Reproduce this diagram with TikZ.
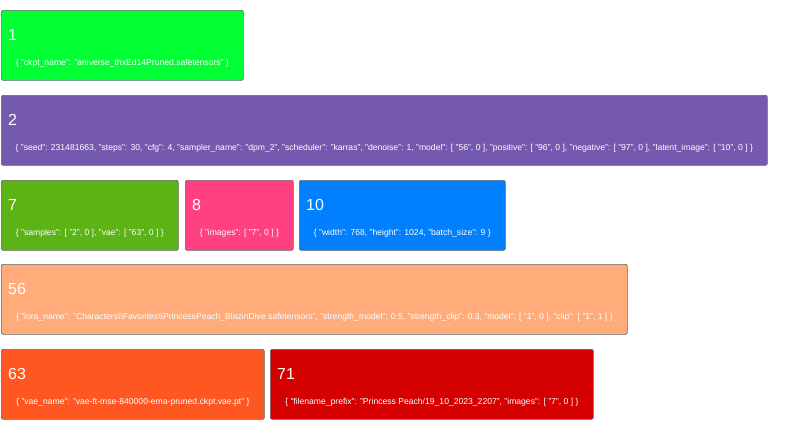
\documentclass[tikz,border=0pt]{standalone}
\usepackage{fontspec}
\setmainfont{Liberation Sans}
\definecolor{cA}{RGB}{0,255,51}
\definecolor{cB}{RGB}{117,89,175}
\definecolor{cC}{RGB}{92,179,21}
\definecolor{cD}{RGB}{255,64,129}
\definecolor{cE}{RGB}{0,128,255}
\definecolor{cF}{RGB}{255,171,122}
\definecolor{cG}{RGB}{255,87,34}
\definecolor{cH}{RGB}{213,0,0}
\tikzset{
  card/.style={draw=gray!80!black, line width=0.7pt, rounded corners=2pt, anchor=north west, inner sep=0pt, minimum height=70pt},
  ttl/.style={text=white, anchor=base west, inner sep=0pt, font=\fontsize{16}{16}\selectfont},
  dtl/.style={text=white, anchor=center, inner sep=0pt, font=\fontsize{8.6}{10}\selectfont},
}
\begin{document}
\begin{tikzpicture}[x=1pt,y=-1pt]
\useasboundingbox (0,0) rectangle (800,426);
% row 1
\node[card, fill=cA, minimum width=242pt] (b1) at (1,10) {};
\node[ttl] (t1) at ([shift={(7,30)}]b1.north west) {1};
\node[dtl] (d1) at ([yshift=-53pt]b1.north) {\{ "ckpt\_name": "aniverse\_thxEd14Pruned.safetensors" \}};
% row 2
\node[card, fill=cB, minimum width=766pt] (b2) at (1,95) {};
\node[ttl] (t2) at ([shift={(7,30)}]b2.north west) {2};
\node[dtl] (d2) at ([yshift=-53pt]b2.north) {\{ "seed": 231481663, "steps": 30, "cfg": 4, "sampler\_name": "dpm\_2", "scheduler": "karras", "denoise": 1, "model": [ "56", 0 ], "positive": [ "96", 0 ], "negative": [ "97", 0 ], "latent\_image": [ "10", 0 ] \}};
% row 3
\node[card, fill=cC, minimum width=177pt] (b7) at (1,180) {};
\node[ttl] (t7) at ([shift={(7,30)}]b7.north west) {7};
\node[dtl] (d7) at ([yshift=-53pt]b7.north) {\{ "samples": [ "2", 0 ], "vae": [ "63", 0 ] \}};
\node[card, fill=cD, minimum width=108pt] (b8) at (185,180) {};
\node[ttl] (t8) at ([shift={(7,30)}]b8.north west) {8};
\node[dtl] (d8) at ([yshift=-53pt]b8.north) {\{ "images": [ "7", 0 ] \}};
\node[card, fill=cE, minimum width=206pt] (b10) at (299,180) {};
\node[ttl] (t10) at ([shift={(7,30)}]b10.north west) {10};
\node[dtl] (d10) at ([yshift=-53pt]b10.north) {\{ "width": 768, "height": 1024, "batch\_size": 9 \}};
% row 4
\node[card, fill=cF, minimum width=626pt] (b56) at (1,264) {};
\node[ttl] (t56) at ([shift={(7,30)}]b56.north west) {56};
\node[dtl] (d56) at ([yshift=-53pt]b56.north) {\{ "lora\_name": "Characters\textbackslash\textbackslash Favorites\textbackslash\textbackslash PrincessPeach\_BlazinDive.safetensors", "strength\_model": 0.5, "strength\_clip": 0.3, "model": [ "1", 0 ], "clip": [ "1", 1 ] \}};
% row 5
\node[card, fill=cG, minimum width=263pt] (b63) at (1,349) {};
\node[ttl] (t63) at ([shift={(7,30)}]b63.north west) {63};
\node[dtl] (d63) at ([yshift=-53pt]b63.north) {\{ "vae\_name": "vae-ft-mse-840000-ema-pruned.ckpt.vae.pt" \}};
\node[card, fill=cH, minimum width=323pt] (b71) at (270,349) {};
\node[ttl] (t71) at ([shift={(7,30)}]b71.north west) {71};
\node[dtl] (d71) at ([yshift=-53pt]b71.north) {\{ "filename\_prefix": "Princess Peach/19\_10\_2023\_2207", "images": [ "7", 0 ] \}};
\end{tikzpicture}
\end{document}
